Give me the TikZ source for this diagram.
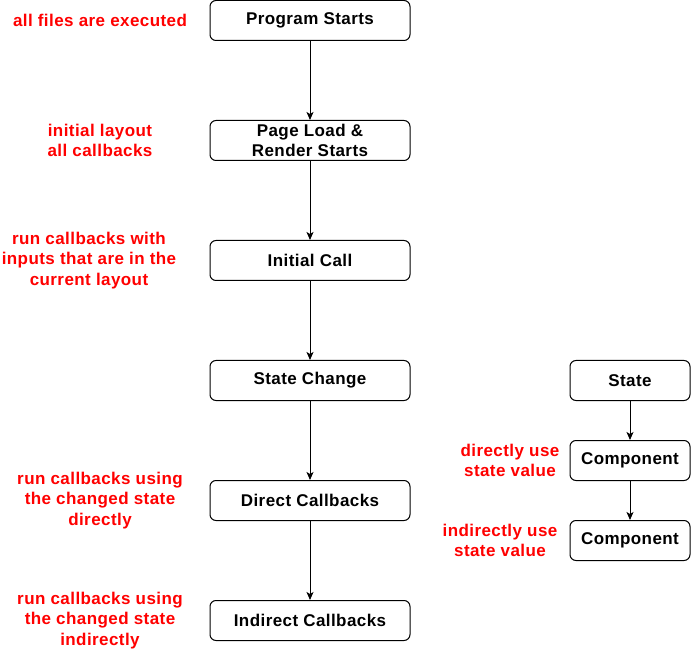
\documentclass[tikz,border=0pt]{standalone}
\usepackage{fontspec}
\setmainfont{Liberation Sans}[LetterSpace=2.5]
\usetikzlibrary{positioning,arrows.meta}
\tikzstyle{stage}=[draw,rounded corners=6pt,minimum width=200pt,
  minimum height=40pt,inner sep=0pt,align=center,
  font=\bfseries\fontsize{17}{20.5}\selectfont]
\tikzstyle{part}=[stage,minimum width=120pt]
\tikzstyle{note}=[text=red,align=center,inner sep=0pt,
  font=\bfseries\fontsize{17}{20.5}\selectfont]

\begin{document}
\begin{tikzpicture}[>={Stealth[length=8pt,width=7pt,inset=2pt]}, x=1pt, y=-1pt,
  line width=1pt, node distance=120pt, on grid]
  \useasboundingbox (0,0) rectangle (691,652);

  % main column
  \node[stage] (start) at (310,20.5) {Program Starts};
  \node[stage, below=of start] (load) {Page Load \&\\Render Starts};
  \node[stage, below=of load] (init) {Initial Call};
  \node[stage, below=of init] (change) {State Change};
  \node[stage, below=of change] (direct) {Direct Callbacks};
  \node[stage, below=of direct] (indirect) {Indirect Callbacks};

  % right column
  \node[part, right=320pt of change] (state) {State};
  \node[part, below=80pt of state] (comp1) {Component};
  \node[part, below=80pt of comp1] (comp2) {Component};

  \node[note, left=210pt of start] (n1) {all files are executed};
  \node[note, left=210pt of load] (n2) {initial layout\\all callbacks};
  \node[note, left=221pt of init] (n3) {run callbacks with\\inputs that are in the\\current layout};
  \node[note, left=210pt of direct] (n4) {run callbacks using\\the changed state\\directly};
  \node[note, left=210pt of indirect] (n5) {run callbacks using\\the changed state\\indirectly};
  \node[note, left=120pt of comp1] (n6) {directly use\\state value};
  \node[note, left=130pt of comp2] (n7) {indirectly use\\state value};

  \draw[->] (start) -- (load);
  \draw[->] (load) -- (init);
  \draw[->] (init) -- (change);
  \draw[->] (change) -- (direct);
  \draw[->] (direct) -- (indirect);
  \draw[->] (state) -- (comp1);
  \draw[->] (comp1) -- (comp2);
\end{tikzpicture}
\end{document}
